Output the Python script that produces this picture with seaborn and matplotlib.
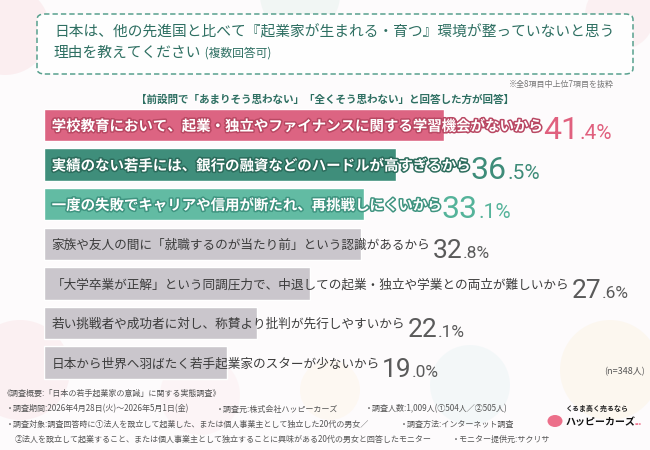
import matplotlib
matplotlib.use("Agg")
import matplotlib.pyplot as plt
import matplotlib.patheffects as pe
from matplotlib.patches import FancyBboxPatch, Ellipse
import pandas as pd
import seaborn as sns

# data
reasons = [
    "学校教育において、起業・独立やファイナンスに関する学習機会がないから",
    "実績のない若手には、銀行の融資などのハードルが高すぎるから",
    "一度の失敗でキャリアや信用が断たれ、再挑戦しにくいから",
    "家族や友人の間に「就職するのが当たり前」という認識があるから",
    "「大学卒業が正解」という同調圧力で、中退しての起業・独立や学業との両立が難しいから",
    "若い挑戦者や成功者に対し、称賛より批判が先行しやすいから",
    "日本から世界へ羽ばたく若手起業家のスターが少ないから",
]
shares = [41.4, 36.5, 33.1, 32.8, 27.6, 22.1, 19.0]

bar_colors = ["#dc6482", "#3f8e7b", "#62bba3", "#cac6cc", "#cac6cc", "#cac6cc", "#cac6cc"]
edge_colors = ["#b94863", "#2c6c5c", "#3f9480", None, None, None, None]
value_colors = ["#e0607e", "#3e8c79", "#55b39a", "#5a5a5a", "#5a5a5a", "#5a5a5a", "#5a5a5a"]

title_1 = "日本は、他の先進国と比べて『起業家が生まれる・育つ』環境が整っていないと思う"
title_2 = "理由を教えてください"
title_2b = " (複数回答可)"
note_top = "※全8項目中上位7項目を抜粋"
condition = "【前設問で「あまりそう思わない」「全くそう思わない」と回答した方が回答】"
n_label = "(n=348人)"
footnotes = [
    (3, 393, "《調査概要:「日本の若手起業家の意識」に関する実態調査》"),
    (6, 409, "・調査期間:2026年4月28日(火)～2026年5月1日(金)"),
    (216, 409, "・調査元:株式会社ハッピーカーズ"),
    (365, 409, "・調査人数:1,009人(①504人／②505人)"),
    (6, 424, "・調査対象:調査回答時に①法人を設立して起業した、または個人事業主として独立した20代の男女／"),
    (400, 424, "・調査方法:インターネット調査"),
    (15, 439, "②法人を設立して起業すること、または個人事業主として独立することに興味がある20代の男女と回答したモニター"),
    (452, 439, "・モニター提供元:サクリサ"),
]

W, H = 650, 450


def fx(px):
    return px / W


def fy(py):
    return 1 - py / H


sns.set_theme(style="white")
plt.rcParams['font.family'] = ['Noto Sans CJK JP', 'DejaVu Sans']

fig = plt.figure(figsize=(6.5, 4.5), dpi=100)
fig.patch.set_facecolor("#fdfbfc")

# faint pastel blobs in the background
for cx, cy, r, c in [(5, 30, 45, "#f6c9cf"), (300, -5, 40, "#cfe9df"), (620, 15, 35, "#f8d3d8"),
                     (20, 370, 50, "#f8d0d5"), (200, 395, 40, "#fbe3e6"), (470, 385, 40, "#d8eef0"),
                     (610, 370, 50, "#fbeccb"), (330, 390, 30, "#fdf0d6")]:
    fig.patches.append(Ellipse((fx(cx), fy(cy)), 2 * r / W, 2 * r / H, transform=fig.transFigure,
                               facecolor=c, edgecolor="none", alpha=0.25, zorder=-2))

# title box
box = FancyBboxPatch((fx(37), fy(74)), fx(633) - fx(37), (74 - 14) / H,
                     boxstyle="round,pad=0,rounding_size=0.012", transform=fig.transFigure,
                     facecolor="white", edgecolor="#4f9c88", linewidth=1.1,
                     linestyle=(0, (3.5, 2)), alpha=0.95, zorder=-1)
fig.patches.append(box)

# bar axes, x=0 at the bars' left edge
x0, px_per = 43.5, 9.67
c0, step = 125, 39.6
top = c0 - step / 2
bottom = c0 + 6 * step + step / 2
ax = fig.add_axes([fx(x0), fy(bottom), (W - x0) / W, (bottom - top) / H])

df = pd.DataFrame({"reason": reasons, "share": shares})
sns.barplot(data=df, x="share", y="reason", hue="reason", palette=bar_colors, orient="h",
            width=0.82, saturation=1, legend=False, ax=ax)
ax.set_xlim(0, (W - x0) / px_per)
ax.set_ylim(6.5, -0.5)
ax.set_axis_off()

for i, (txt, val) in enumerate(zip(reasons, shares)):
    top3 = i < 3
    t = ax.text(0.85, i + 0.04, txt, va="center", ha="left",
                fontsize=10.4 if top3 else 9.1,
                color="white" if top3 else "#3c3c3c",
                fontweight="bold" if top3 else "normal")
    if top3:
        t.set_path_effects([pe.withStroke(linewidth=2.2, foreground=edge_colors[i])])
    whole, frac = f"{val:.1f}".split(".")
    big = 23 if top3 else 19
    small = 15 if top3 else 12.5
    a = ax.annotate(whole, xy=(1, i + 0.36), xycoords=(t, "data"), xytext=(1.5, 0),
                    textcoords="offset points", va="baseline", ha="left", fontsize=big,
                    family="Roboto", color=value_colors[i], annotation_clip=False)
    ax.annotate(f".{frac}%", xy=(1, i + 0.36), xycoords=(a, "data"), xytext=(0.3, 0),
                textcoords="offset points", va="baseline", ha="left", fontsize=small,
                family="Roboto", color=value_colors[i], annotation_clip=False)

# header texts
title_color = "#2e6f62"
fig.text(fx(54), fy(32), title_1, fontsize=10.6, color=title_color, va="center", ha="left")
t2 = fig.text(fx(54), fy(53), title_2, fontsize=10.6, color=title_color, va="center", ha="left")
ax.annotate(title_2b, xy=(1, 0.5), xycoords=t2, va="center", ha="left", fontsize=8.5,
            color=title_color, annotation_clip=False)
fig.text(fx(614), fy(84), note_top, fontsize=5.8, color="#777777", va="center", ha="right")
fig.text(fx(325), fy(100), condition, fontsize=7.6, color=title_color, va="center", ha="center",
         fontweight="bold")
fig.text(fx(645), fy(372), n_label, fontsize=6.5, color="#555555", va="center", ha="right")

for px, py, s in footnotes:
    fig.text(fx(px), fy(py), s, fontsize=5.8, color="#555555", va="center", ha="left")

# logo
fig.patches.append(Ellipse((fx(555), fy(421)), 15 / W, 12 / H, transform=fig.transFigure,
                           facecolor="#ec6f8a", edgecolor="none", zorder=1))
fig.text(fx(566), fy(408), "くるま高く売るなら", fontsize=5.0, color="#222222", va="center",
         ha="left", fontweight="bold")
lg = fig.text(fx(565), fy(422), "ハッピーカーズ", fontsize=7.2, color="#111111", va="center",
              ha="left", fontweight="bold")
ax.annotate("•••", xy=(1, 0.3), xycoords=lg, va="center", ha="left", fontsize=5,
            color="#ec6f8a", annotation_clip=False)

fig.savefig("out.png", dpi=100, facecolor=fig.get_facecolor())
